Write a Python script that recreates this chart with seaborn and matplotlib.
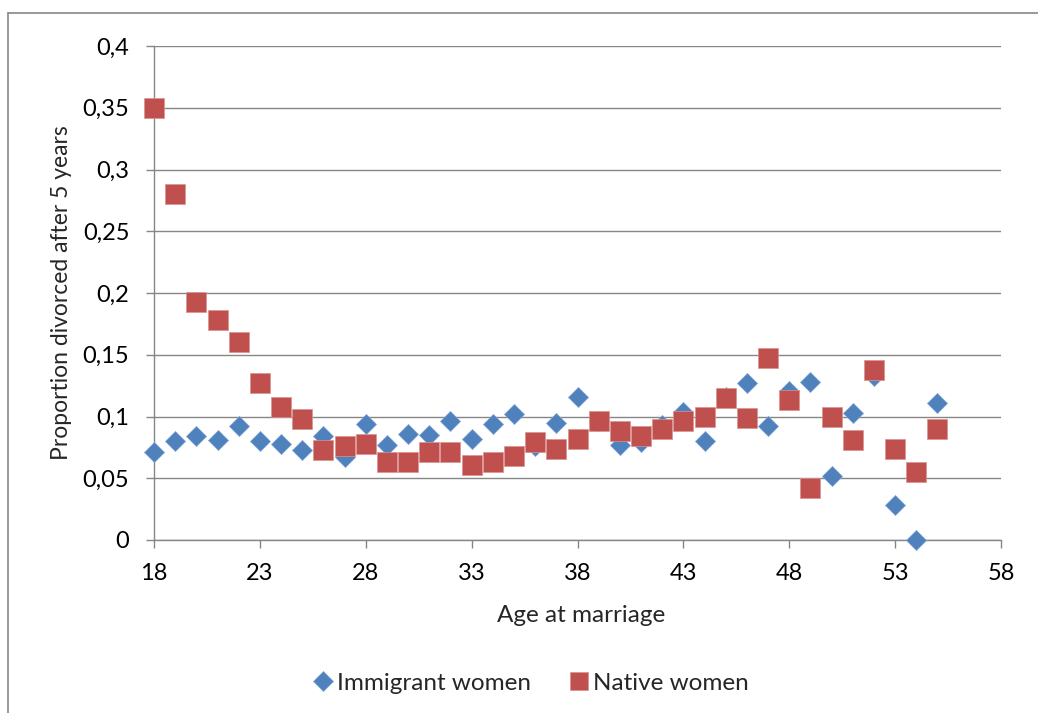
import numpy as np
import pandas as pd
import matplotlib
matplotlib.use("Agg")
import matplotlib.pyplot as plt
from matplotlib.lines import Line2D
import seaborn as sns

# ages at marriage (same for both series)
ages = list(range(18, 56))

immigrant = [0.071, 0.080, 0.084, 0.081, 0.092, 0.080, 0.078, 0.073, 0.084, 0.067,
             0.094, 0.077, 0.086, 0.085, 0.096, 0.082, 0.094, 0.102, 0.076, 0.095,
             0.116, 0.096, 0.077, 0.079, 0.093, 0.104, 0.080, 0.116, 0.127, 0.092,
             0.121, 0.128, 0.052, 0.103, 0.133, 0.028, 0.000, 0.111]

native = [0.350, 0.280, 0.193, 0.178, 0.160, 0.127, 0.108, 0.098, 0.073, 0.076,
          0.078, 0.063, 0.063, 0.071, 0.071, 0.061, 0.063, 0.068, 0.079, 0.074,
          0.082, 0.096, 0.088, 0.084, 0.090, 0.096, 0.100, 0.115, 0.099, 0.147,
          0.113, 0.042, 0.100, 0.081, 0.138, 0.074, 0.055, 0.090]

series_names = ["Immigrant women", "Native women"]
x_ticks = [18, 23, 28, 33, 38, 43, 48, 53, 58]
y_ticks = [0, 0.05, 0.1, 0.15, 0.2, 0.25, 0.3, 0.35, 0.4]
y_tick_labels = ["0", "0,05", "0,1", "0,15", "0,2", "0,25", "0,3", "0,35", "0,4"]

BLUE = "#4F81BD"
RED = "#C0504D"
GRID = "#868686"

df = pd.DataFrame({
    "age": ages * 2,
    "value": immigrant + native,
    "group": [series_names[0]] * len(ages) + [series_names[1]] * len(ages),
})

sns.set_theme(style="white")
plt.rcParams["font.family"] = ["Lato", "DejaVu Sans"]

W, H = 1038, 713
fig = plt.figure(figsize=(W / 100, H / 100), dpi=100)
ax = fig.add_axes([154 / W, 1 - 540 / H, 847 / W, 494 / H])

sns.scatterplot(data=df[df.group == series_names[0]], x="age", y="value",
                marker="D", s=104, color=BLUE, edgecolor="#7fa3d0",
                linewidth=0.5, ax=ax, legend=False, zorder=3, clip_on=False)
sns.scatterplot(data=df[df.group == series_names[1]], x="age", y="value",
                marker="s", s=200, color=RED, edgecolor="#d89492",
                linewidth=0.5, ax=ax, legend=False, zorder=4, clip_on=False)

ax.set_xlim(18, 58)
ax.set_ylim(0, 0.4)
ax.set_xticks(x_ticks)
ax.set_yticks(y_ticks)
ax.set_yticklabels(y_tick_labels)
ax.set_xlabel("")
ax.set_ylabel("")
ax.yaxis.grid(True, color=GRID, linewidth=1.0)
ax.xaxis.grid(False)
ax.set_axisbelow(True)
for side in ["top", "right"]:
    ax.spines[side].set_visible(False)
for side in ["left", "bottom"]:
    ax.spines[side].set_color(GRID)
    ax.spines[side].set_linewidth(1.0)
ax.tick_params(axis="both", which="major", direction="out", length=5.8,
               width=1.0, color=GRID, labelsize=17, labelcolor="black")
ax.tick_params(axis="x", bottom=True, pad=11)
ax.tick_params(axis="y", left=True, pad=12)

fig.text(62 / W, 1 - 293 / H, "Proportion divorced after 5 years",
         rotation=90, ha="center", va="center", fontsize=16.5)
fig.text(581 / W, 1 - 615 / H, "Age at marriage",
         ha="center", va="center", fontsize=17.5)

handles = [
    Line2D([], [], marker="D", linestyle="none", markersize=10, color=BLUE,
           markeredgecolor="#7fa3d0", markeredgewidth=0.5),
    Line2D([], [], marker="s", linestyle="none", markersize=13, color=RED,
           markeredgecolor="#d89492", markeredgewidth=0.5),
]
fig.legend(handles, series_names, loc="center", bbox_to_anchor=(531 / W, 1 - 683 / H),
           ncol=2, frameon=False, fontsize=17.5, handlelength=0.8,
           handletextpad=0.15, columnspacing=1.6)

# chart area border (cut off at right and bottom)
fig.add_artist(Line2D([7.5 / W, 7.5 / W], [0, 1 - 12.5 / H], color="#878787",
                      linewidth=1.2, transform=fig.transFigure))
fig.add_artist(Line2D([7.5 / W, 1], [1 - 12.5 / H, 1 - 12.5 / H], color="#878787",
                      linewidth=1.2, transform=fig.transFigure))

fig.savefig("out.png", dpi=100)
